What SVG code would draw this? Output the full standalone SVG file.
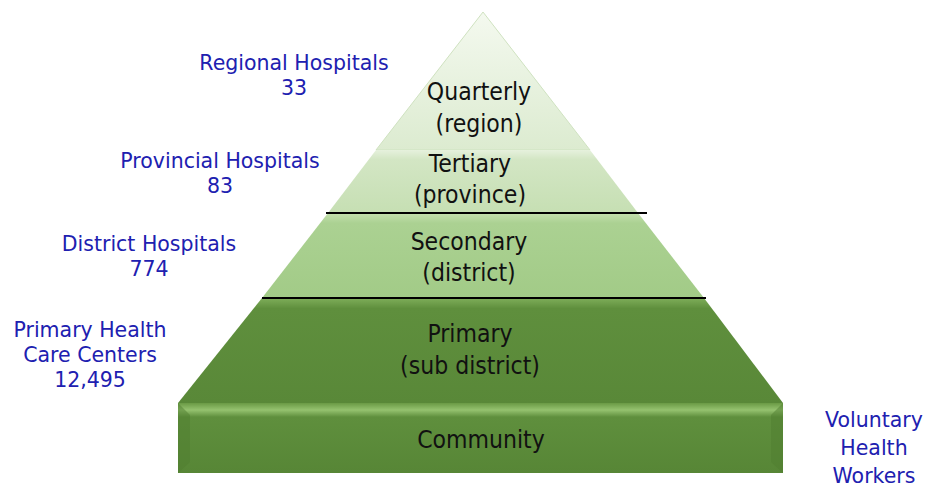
<svg xmlns="http://www.w3.org/2000/svg" width="927" height="489" viewBox="0 0 927 489">
<defs>
<style>
.blue{font-family:"DejaVu Sans","Liberation Sans",sans-serif;font-size:20.5px;fill:#2020b0;text-anchor:middle}
.blk{font-family:"DejaVu Sans Condensed","DejaVu Sans","Liberation Sans Narrow",sans-serif;font-stretch:condensed;font-size:24.5px;fill:#111;text-anchor:middle}
.sep{stroke:#000;stroke-width:2}
</style>
<linearGradient id="gTop" x1="0" y1="0" x2="0" y2="1">
<stop offset="0" stop-color="#f4f9ef"/><stop offset="1" stop-color="#dcebd0"/>
</linearGradient>
<linearGradient id="gTer" x1="0" y1="0" x2="0" y2="1">
<stop offset="0" stop-color="#e6f1dd"/><stop offset="0.15" stop-color="#d3e6c4"/><stop offset="1" stop-color="#c6dfb3"/>
</linearGradient>
<linearGradient id="gSec" x1="0" y1="0" x2="0" y2="1">
<stop offset="0" stop-color="#c4e0ae"/><stop offset="0.12" stop-color="#abd192"/><stop offset="1" stop-color="#a2cb87"/>
</linearGradient>
<linearGradient id="gPri" x1="0" y1="0" x2="0" y2="1">
<stop offset="0" stop-color="#7fae5a"/><stop offset="0.1" stop-color="#5f8f3d"/><stop offset="1" stop-color="#598838"/>
</linearGradient>
<linearGradient id="gCom" x1="0" y1="0" x2="0" y2="1">
<stop offset="0" stop-color="#6a9a45"/><stop offset="0.1" stop-color="#95c26f"/><stop offset="0.2" stop-color="#5f8f3d"/><stop offset="1" stop-color="#578636"/>
</linearGradient>
</defs>
<g id="level-quarterly">
<polygon points="483,12 590,150 376,150" fill="url(#gTop)" stroke="#cfe2c0" stroke-width="1"/>
<text class="blk" x="479" y="100">Quarterly</text>
<text class="blk" x="479" y="132">(region)</text>
</g>
<g id="level-tertiary">
<polygon points="376,150 590,150 638,213 328,213" fill="url(#gTer)"/>
<text class="blk" x="470" y="172">Tertiary</text>
<text class="blk" x="470" y="203">(province)</text>
</g>
<g id="level-secondary">
<polygon points="328,213 638,213 704,298 262,298" fill="url(#gSec)"/>
<text class="blk" x="469" y="250">Secondary</text>
<text class="blk" x="469" y="281">(district)</text>
</g>
<g id="level-primary">
<polygon points="262,298 704,298 783,403 178,403" fill="url(#gPri)"/>
<text class="blk" x="470" y="342">Primary</text>
<text class="blk" x="470" y="374">(sub district)</text>
</g>
<g id="level-community">
<rect x="178" y="403" width="605" height="70" fill="url(#gCom)"/>
<polygon points="178,403 190,415 190,462 178,473" fill="#4f7d30" opacity="0.5"/>
<polygon points="783,403 771,415 771,462 783,473" fill="#4f7d30" opacity="0.5"/>
<text class="blk" x="481" y="448">Community</text>
</g>
<g id="separators">
<line class="sep" x1="326" y1="213" x2="647" y2="213"/>
<line class="sep" x1="262" y1="298" x2="706" y2="298"/>
</g>
<g id="label-regional">
<text class="blue" x="294" y="70">Regional Hospitals</text>
<text class="blue" x="294" y="95">33</text>
</g>
<g id="label-provincial">
<text class="blue" x="220" y="168">Provincial Hospitals</text>
<text class="blue" x="220" y="193">83</text>
</g>
<g id="label-district">
<text class="blue" x="149" y="251">District Hospitals</text>
<text class="blue" x="149" y="276">774</text>
</g>
<g id="label-primary">
<text class="blue" x="90" y="337">Primary Health</text>
<text class="blue" x="90" y="362">Care Centers</text>
<text class="blue" x="90" y="387">12,495</text>
</g>
<g id="label-voluntary">
<text class="blue" x="874" y="427">Voluntary</text>
<text class="blue" x="874" y="455">Health</text>
<text class="blue" x="874" y="483">Workers</text>
</g>
</svg>
